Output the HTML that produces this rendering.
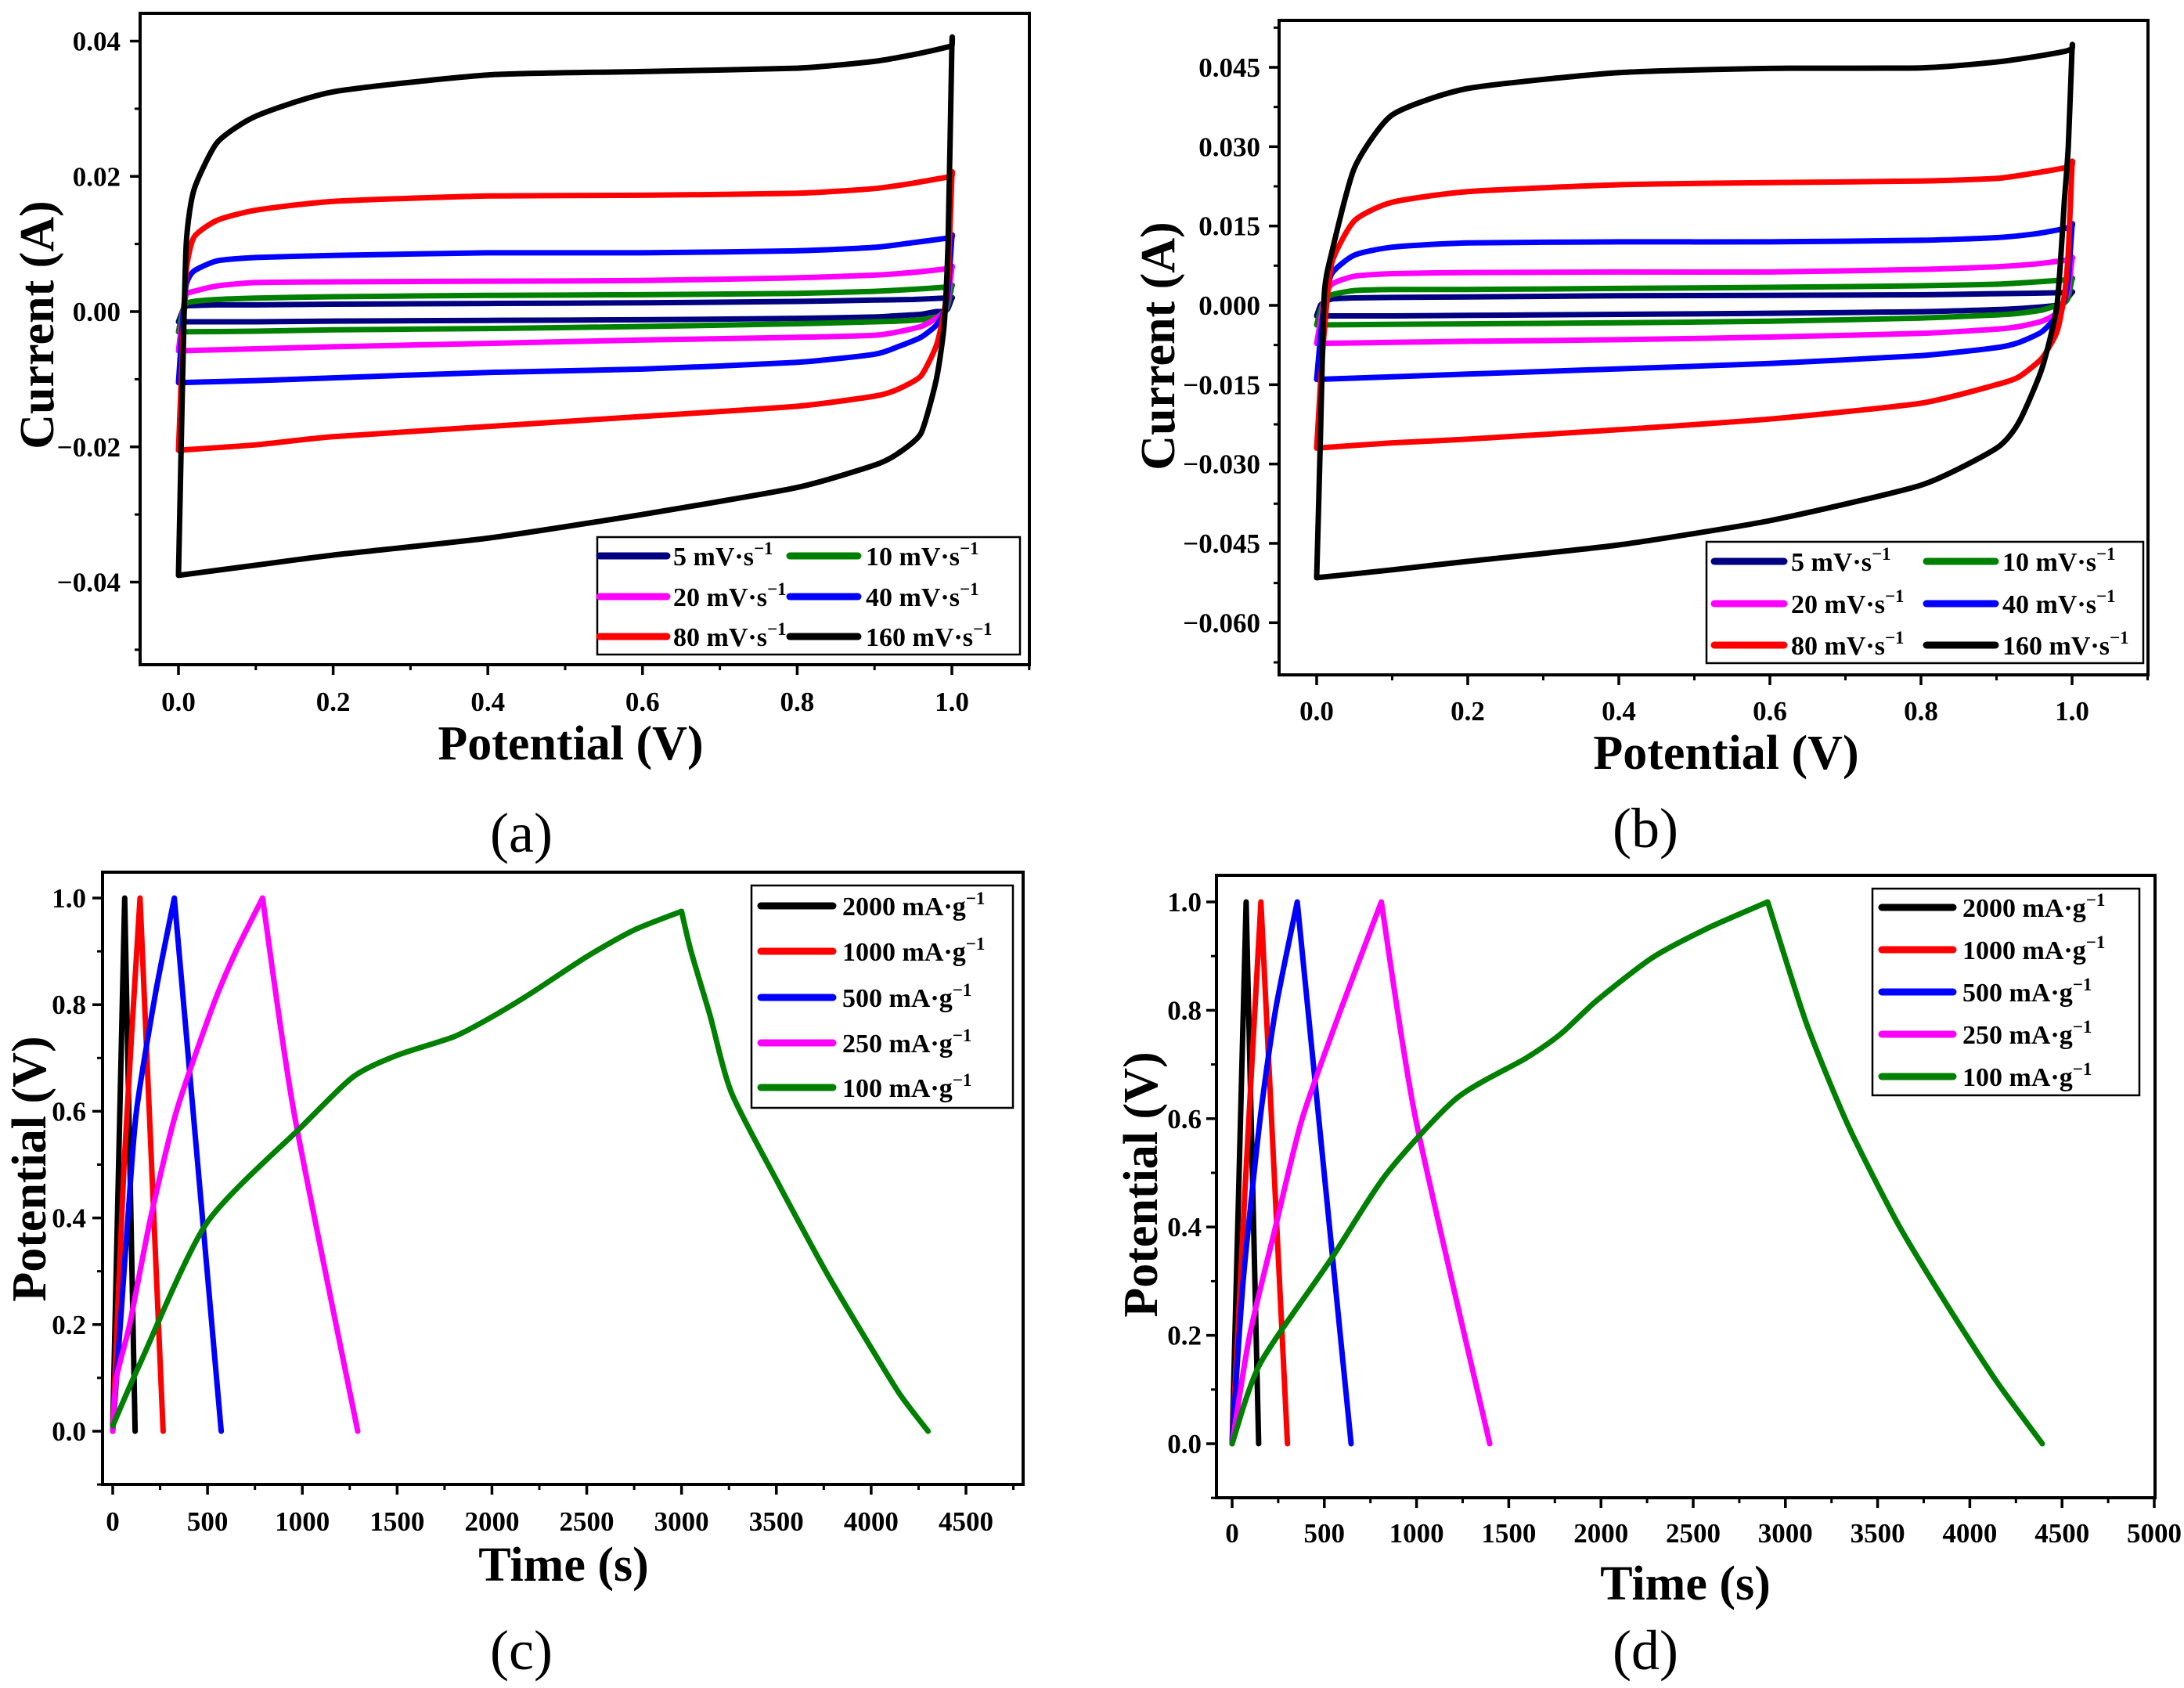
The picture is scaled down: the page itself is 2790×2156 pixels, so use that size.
<!DOCTYPE html>
<html><head><meta charset="utf-8"><style>
html,body{margin:0;padding:0;background:#fff;}
svg{display:block;font-family:"Liberation Serif","DejaVu Serif",serif;}
</style></head><body>
<svg id="fig" width="2790" height="2156" viewBox="0 0 2790 2156" xmlns="http://www.w3.org/2000/svg"></svg>
<script>
// ---------- CV panel (a) data ----------
const gridUp = [0,0.005,0.01,0.02,0.05,0.1,0.2,0.4,0.6,0.8,0.9,0.95,0.99,1.0];
const gridDn = [1.0,0.995,0.99,0.98,0.96,0.93,0.9,0.8,0.6,0.4,0.2,0.1,0.0];
const cvLabels = ["5 mV·s","10 mV·s","20 mV·s","40 mV·s","80 mV·s","160 mV·s"];
const cvColors = ["#000080","#008000","#ff00ff","#0000ff","#ff0000","#000000"];
const aUp5   = [-0.0015,0,0.0008,0.0009,0.001,0.001,0.0011,0.0012,0.0013,0.0015,0.0017,0.0018,0.002,0.002];
const aUp10  = [-0.003,0,0.0012,0.0015,0.0018,0.002,0.0022,0.0024,0.0025,0.0027,0.003,0.0033,0.0036,0.0038];
const aUp20  = [-0.0058,-0.001,0.0025,0.003,0.0038,0.0043,0.0044,0.0045,0.0046,0.005,0.0054,0.0058,0.0063,0.0065];
const aUp40  = [-0.0105,-0.002,0.004,0.006,0.0075,0.008,0.0083,0.0087,0.0087,0.009,0.0095,0.0102,0.0108,0.011];
const aUp80  = [-0.0205,-0.006,0.006,0.011,0.0135,0.015,0.0163,0.0171,0.0172,0.0175,0.0182,0.019,0.0198,0.020];
const aUp160 = [-0.039,-0.012,0.010,0.018,0.025,0.0289,0.0325,0.035,0.0355,0.036,0.037,0.038,0.039,0.0393];
const aDn5   = [0.002,0.0005,0.0,0.0,-0.0004,-0.0006,-0.0008,-0.001,-0.0012,-0.0013,-0.0014,-0.0015,-0.0015];
const aDn10  = [0.0038,0.001,0.0,-0.0008,-0.0012,-0.0014,-0.0015,-0.0018,-0.0022,-0.0025,-0.0027,-0.0029,-0.003];
const aDn20  = [0.0065,0.002,0.0,-0.001,-0.0022,-0.003,-0.0035,-0.0038,-0.0042,-0.0047,-0.0052,-0.0055,-0.0058];
const aDn40  = [0.011,0.003,0.0,-0.002,-0.0038,-0.0052,-0.0063,-0.0075,-0.0085,-0.009,-0.0098,-0.0102,-0.0105];
const aDn80  = [0.020,0.005,0.0,-0.005,-0.0095,-0.0115,-0.0125,-0.014,-0.0155,-0.017,-0.0185,-0.0197,-0.0205];
const aDn160 = [0.0393,0.01,-0.002,-0.01,-0.018,-0.021,-0.0227,-0.026,-0.030,-0.0335,-0.036,-0.0375,-0.039];
// ---------- CV panel (b) data ----------
const bUp5   = [-0.002,0,0.0005,0.0012,0.0014,0.0015,0.0016,0.0018,0.0019,0.002,0.0022,0.0023,0.0024,0.0025];
const bUp10  = [-0.0037,-0.001,0.0008,0.002,0.0028,0.003,0.003,0.0032,0.0034,0.0037,0.004,0.0044,0.0048,0.005];
const bUp20  = [-0.0072,-0.003,0.001,0.004,0.0055,0.006,0.0062,0.0063,0.0063,0.0068,0.0073,0.0078,0.0085,0.0088];
const bUp40  = [-0.014,-0.006,0.0,0.006,0.0095,0.011,0.0118,0.012,0.012,0.0123,0.0128,0.0135,0.0145,0.015];
const bUp80  = [-0.027,-0.015,-0.005,0.008,0.016,0.0195,0.0215,0.0228,0.0232,0.0235,0.024,0.025,0.026,0.0265];
const bUp160 = [-0.0515,-0.025,0.002,0.010,0.026,0.036,0.041,0.044,0.0448,0.0449,0.046,0.047,0.048,0.0485];
const bDn5   = [0.0025,0.0015,0.0005,0.0,-0.0003,-0.0006,-0.0008,-0.0012,-0.0015,-0.0017,-0.0019,-0.002,-0.002];
const bDn10  = [0.005,0.0015,0.0005,0.0,-0.0009,-0.0015,-0.0018,-0.0024,-0.003,-0.0033,-0.0035,-0.0036,-0.0037];
const bDn20  = [0.0088,0.003,0.001,-0.0015,-0.003,-0.004,-0.0045,-0.0053,-0.006,-0.0065,-0.0068,-0.007,-0.0072];
const bDn40  = [0.015,0.005,0.001,-0.002,-0.005,-0.007,-0.008,-0.0095,-0.011,-0.012,-0.013,-0.0135,-0.014];
const bDn80  = [0.0265,0.01,0.002,-0.005,-0.01,-0.0135,-0.015,-0.0185,-0.0215,-0.0235,-0.0253,-0.026,-0.027];
const bDn160 = [0.0485,0.03,0.02,0.0,-0.012,-0.022,-0.027,-0.034,-0.0407,-0.0453,-0.0484,-0.05,-0.0515];
// ---------- GCD data ----------
const gcdLabels = ["2000 mA·g","1000 mA·g","500  mA·g","250  mA·g","100  mA·g"];
const gcdLabelsD = ["2000 mA·g","1000 mA·g","500 mA·g","250 mA·g","100 mA·g"];
const gcdColors = ["#000000","#ff0000","#0000ff","#ff00ff","#008000"];
const c2000T = [0,63,118];              const c2000V = [0.01,1.0,0.0];
const c1000T = [0,60,144,266];          const c1000V = [0.0,0.5,1.0,0.0];
const c500T  = [0,40,80,125,225,325,572]; const c500V = [0,0.2,0.4,0.6,0.82,1.0,0];
const c250T  = [0,20,89,200,336,531,650,790,955,1292]; const c250V = [0,0.1,0.2,0.4,0.6,0.8,0.9,1.0,0.6,0];
const c100T  = [0,144,495,993,1270,1500,1800,1990,2200,2500,2750,3000,3050,3150,3263,3502,3760,3982,4150,4300];
const c100V  = [0.01,0.127,0.39,0.57,0.665,0.705,0.74,0.775,0.82,0.89,0.94,0.975,0.9,0.78,0.635,0.47,0.3,0.167,0.07,0];
const d2000T = [0,76,144];              const d2000V = [0,1.0,0];
const d1000T = [0,70,156,300];          const d1000V = [0,0.47,1.0,0];
const d500T  = [0,60,152,235,353,645];  const d500V = [0,0.3,0.6,0.8,1.0,0];
const d250T  = [0,95,235,380,588,809,995,1397]; const d250V = [0,0.2,0.4,0.6,0.8,1.0,0.6,0];
const d100T  = [0,152,531,835,1215,1595,1784,1974,2278,2582,2904,3113,3341,3607,3873,4139,4393];
const d100V  = [0,0.148,0.338,0.497,0.637,0.712,0.757,0.817,0.897,0.952,1.0,0.777,0.587,0.408,0.258,0.118,0];
// ---------- tick labels ----------
const aXTicks = [0,0.2,0.4,0.6,0.8,1.0]; const aXLabels = ["0.0","0.2","0.4","0.6","0.8","1.0"];
const aYTicks = [-0.04,-0.02,0,0.02,0.04]; const aYLabels = ["−0.04","−0.02","0.00","0.02","0.04"];
const bYTicks = [-0.06,-0.045,-0.03,-0.015,0,0.015,0.03,0.045]; const bYLabels = ["−0.060","−0.045","−0.030","−0.015","0.000","0.015","0.030","0.045"];
const cXTicks = [0,500,1000,1500,2000,2500,3000,3500,4000,4500]; const cXLabels = cXTicks.map(String);
const dXTicks = [0,500,1000,1500,2000,2500,3000,3500,4000,4500,5000]; const dXLabels = dXTicks.map(String);
const gYTicks = [0,0.2,0.4,0.6,0.8,1.0]; const gYLabels = ["0.0","0.2","0.4","0.6","0.8","1.0"];

const NS="http://www.w3.org/2000/svg";
const svg=document.getElementById('fig');
function mk(tag,attrs,parent){const e=document.createElementNS(NS,tag);for(const k in attrs)e.setAttribute(k,attrs[k]);(parent||svg).appendChild(e);return e;}
function lin(d0,d1,p0,p1){return v=>p0+(v-d0)*(p1-p0)/(d1-d0);}
function smoothPath(pts,close,k,noMove){
  let d=noMove?'':'M'+pts[0][0].toFixed(1)+' '+pts[0][1].toFixed(1);
  const n=pts.length;
  for(let i=0;i<n-1;i++){
    const p0=pts[i>0?i-1:(close?n-1:i)],p1=pts[i],p2=pts[i+1],p3=pts[i+2<n?i+2:(close?0:i+1)];
    const c1=[p1[0]+(p2[0]-p0[0])*k,p1[1]+(p2[1]-p0[1])*k];
    const c2=[p2[0]-(p3[0]-p1[0])*k,p2[1]-(p3[1]-p1[1])*k];
    d+='C'+c1[0].toFixed(1)+' '+c1[1].toFixed(1)+' '+c2[0].toFixed(1)+' '+c2[1].toFixed(1)+' '+p2[0].toFixed(1)+' '+p2[1].toFixed(1);
  }
  if(close)d+='Z';
  return d;
}
function gcdPath(pts){
  let m=0;pts.forEach((p,i)=>{if(p[1]<pts[m][1])m=i;});
  const a=pts.slice(0,m+1), b=pts.slice(m);
  let d=smoothPath(a,false,0.12,false);
  if(b.length>1)d+=smoothPath(b,false,0.12,true);
  return d;
}

function panel(P){
  const g=mk('g',{});
  
  
  const sx=lin(P.x0v,P.x1v,P.x0p,P.x1p), sy=lin(P.y0v,P.y1v,P.y0p,P.y1p);
  P.series.forEach(s=>{
    const pts=s.xs.map((x,i)=>[sx(x),sy(s.ys[i])]);
    const d=s.close?smoothPath(pts,true,0.1,false):gcdPath(pts);
    const p=mk('path',{d:d,fill:'none',stroke:s.color,'stroke-width':7,'stroke-linejoin':'round','stroke-linecap':'round'},g);
    
    
  });
  const f=mk('rect',{x:P.L,y:P.T,width:P.R-P.L,height:P.B-P.T,fill:'none',stroke:'#000','stroke-width':4},g);
  
  
  const xg=mk('g',{},g);
  
  
  P.xTicks.forEach((v,i)=>{
    const x=sx(v);
    mk('line',{x1:x,x2:x,y1:P.B,y2:P.B+13,stroke:'#000','stroke-width':3.5},xg);
    const t=mk('text',{x:x,y:P.xLabY,'text-anchor':'middle','font-size':35,'font-weight':'bold'},xg);
    t.textContent=P.xLabels[i];
    
    
  });
  P.xMinor.forEach(v=>{const x=sx(v);mk('line',{x1:x,x2:x,y1:P.B,y2:P.B+7,stroke:'#000','stroke-width':3},xg);});
  const yg=mk('g',{},g);
  
  
  P.yTicks.forEach((v,i)=>{
    const y=sy(v);
    mk('line',{x1:P.L-13,x2:P.L,y1:y,y2:y,stroke:'#000','stroke-width':3.5},yg);
    const t=mk('text',{x:P.yLabX,y:y+12,'text-anchor':'end','font-size':35,'font-weight':'bold'},yg);
    t.textContent=P.yLabels[i];
    
    
  });
  P.yMinor.forEach(v=>{const y=sy(v);mk('line',{x1:P.L-7,x2:P.L,y1:y,y2:y,stroke:'#000','stroke-width':3},yg);});
  const xt=mk('text',{x:P.xTitle[0],y:P.xTitle[1],'text-anchor':'middle','font-size':62,'font-weight':'bold'},g);
  xt.textContent=P.xTitleText;
  
  
  const yt=mk('text',{x:0,y:0,'text-anchor':'middle','font-size':62,'font-weight':'bold',transform:`translate(${P.yTitle[0]},${P.yTitle[1]}) rotate(-90)`},g);
  yt.textContent=P.yTitleText;
  
  
  const pl=mk('text',{x:P.plabel[0],y:P.plabel[1],'text-anchor':'middle','font-size':72},g);
  pl.textContent=P.plabelText;
  
  
  const lg=mk('g',{},g);
  
  
  const Lb=P.legend;
  mk('rect',{x:Lb.box[0],y:Lb.box[1],width:Lb.box[2]-Lb.box[0],height:Lb.box[3]-Lb.box[1],fill:'#fff',stroke:'#000','stroke-width':2.5},lg);
  Lb.items.forEach(it=>{
    const e=mk('g',{},lg);
    
    
    mk('line',{x1:it.x1,x2:it.x2,y1:it.y,y2:it.y,stroke:it.color,'stroke-width':9,'stroke-linecap':'round'},e);
    const t=mk('text',{x:it.tx,y:it.y+12,'font-size':34,'font-weight':'bold'},e);
    t.textContent=it.label;
    const sup=mk('tspan',{'font-size':23,dy:-14},t);
    sup.textContent='−1';
  });
}

function range(a,b,s){const r=[];for(let v=a;v<=b+1e-9;v+=s)r.push(+v.toFixed(6));return r;}

const aUps=[aUp5,aUp10,aUp20,aUp40,aUp80,aUp160], aDns=[aDn5,aDn10,aDn20,aDn40,aDn80,aDn160];
const bUps=[bUp5,bUp10,bUp20,bUp40,bUp80,bUp160], bDns=[bDn5,bDn10,bDn20,bDn40,bDn80,bDn160];
function cvSeries(ups,dns){return ups.map((u,i)=>({id:'cv-'+cvLabels[i].split(' ')[0]+'-mvs',color:cvColors[i],xs:gridUp.concat(gridDn),ys:u.concat(dns[i]),close:true}));}
function cvLegend(box,rows,c1,c2){const items=[];cvLabels.forEach((l,i)=>{const col=i%2?c2:c1;items.push({label:l,color:cvColors[i],y:rows[Math.floor(i/2)],x1:col[0],x2:col[1],tx:col[2]});});return {box:box,items:items};}

panel({name:'panel-a-cv',L:179,R:1315,T:17,B:849,x0v:0,x1v:1,x0p:228,x1p:1216,y0v:0,y1v:0.04,y0p:398,y1p:52.5,
  series:cvSeries(aUps,aDns),xTicks:aXTicks,xLabels:aXLabels,xMinor:[0.1,0.3,0.5,0.7,0.9,1.1],
  yTicks:aYTicks,yLabels:aYLabels,yMinor:[-0.05,-0.03,-0.01,0.01,0.03],xLabY:908,yLabX:154,
  xTitle:[729,970],xTitleText:'Potential (V)',yTitle:[68,415],yTitleText:'Current (A)',plabel:[666,1088],plabelText:'(a)',
  legend:cvLegend([763,686,1303,836],[710,762,813],[766,852,860],[1009,1096,1106])});

panel({name:'panel-b-cv',L:1634,R:2744,T:26,B:862,x0v:0,x1v:1,x0p:1682,x1p:2647,y0v:0,y1v:0.045,y0p:390,y1p:86,
  series:cvSeries(bUps,bDns),xTicks:aXTicks,xLabels:aXLabels,xMinor:[0.1,0.3,0.5,0.7,0.9,1.1],
  yTicks:bYTicks,yLabels:bYLabels,yMinor:[-0.0675,-0.0525,-0.0375,-0.0225,-0.0075,0.0075,0.0225,0.0375,0.0525],xLabY:920,yLabX:1610,
  xTitle:[2205,982],xTitleText:'Potential (V)',yTitle:[1500,442],yTitleText:'Current (A)',plabel:[2102,1082],plabelText:'(b)',
  legend:cvLegend([2180,692,2738,847],[717,771,824],[2190,2279,2288],[2461,2549,2558])});

function gcdSeries(Ts,Vs){return Ts.map((t,i)=>({id:'gcd-'+gcdLabelsD[i].split(' ')[0],color:gcdColors[i],xs:t,ys:Vs[i],close:false}));}
function gcdLegend(box,rows,x1,x2,tx,labels){return {box:box,items:labels.map((l,i)=>({label:l,color:gcdColors[i],y:rows[i],x1:x1,x2:x2,tx:tx}))};}

panel({name:'panel-c-gcd',L:131,R:1307,T:1114,B:1896,x0v:0,x1v:4500,x0p:144,x1p:1234,y0v:0,y1v:1,y0p:1828,y1p:1147,
  series:gcdSeries([c2000T,c1000T,c500T,c250T,c100T],[c2000V,c1000V,c500V,c250V,c100V]),
  xTicks:cXTicks,xLabels:cXLabels,xMinor:range(250,4750,500),yTicks:gYTicks,yLabels:gYLabels,yMinor:[-0.1,0.1,0.3,0.5,0.7,0.9],
  xLabY:1955,yLabX:110,xTitle:[720,2019],xTitleText:'Time (s)',yTitle:[58,1493],yTitleText:'Potential (V)',plabel:[666,2132],plabelText:'(c)',
  legend:gcdLegend([960,1131,1294,1415],[1157,1215,1274,1332,1389],972,1064,1076,gcdLabels)});

panel({name:'panel-d-gcd',L:1554,R:2753,T:1118,B:1913,x0v:0,x1v:5000,x0p:1574,x1p:2752,y0v:0,y1v:1,y0p:1844,y1p:1152,
  series:gcdSeries([d2000T,d1000T,d500T,d250T,d100T],[d2000V,d1000V,d500V,d250V,d100V]),
  xTicks:dXTicks,xLabels:dXLabels,xMinor:range(250,4750,500),yTicks:gYTicks,yLabels:gYLabels,yMinor:[-0.1,0.1,0.3,0.5,0.7,0.9],
  xLabY:1970,yLabX:1535,xTitle:[2153,2043],xTitleText:'Time (s)',yTitle:[1478,1513],yTitleText:'Potential (V)',plabel:[2102,2132],plabelText:'(d)',
  legend:gcdLegend([2392,1135,2733,1399],[1159,1213,1267,1321,1375],2404,2495,2507,gcdLabelsD)});
</script>
</body></html>
